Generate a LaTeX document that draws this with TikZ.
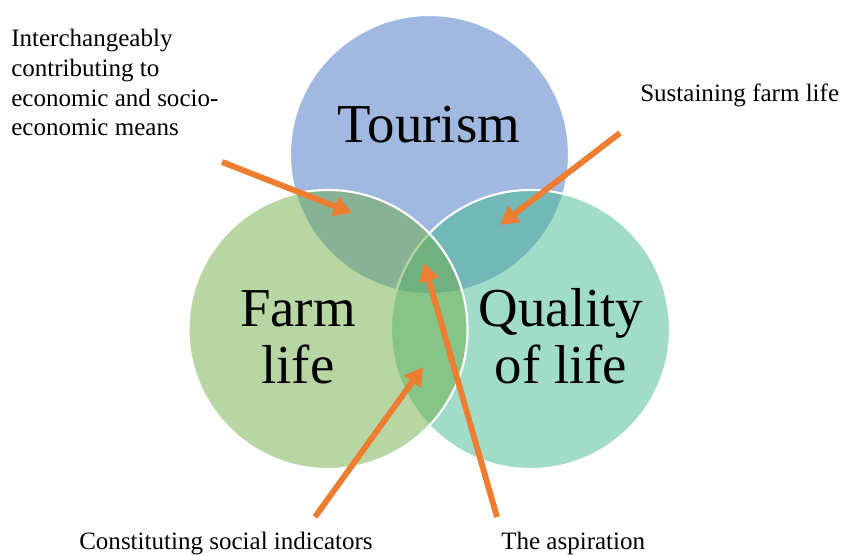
\documentclass[tikz,border=0pt]{standalone}
\usepackage{fontspec}
\setmainfont{Liberation Serif}
\usetikzlibrary{arrows.meta}
\definecolor{tourc}{RGB}{68,114,196}
\definecolor{farmc}{RGB}{111,173,71}
\definecolor{qualc}{RGB}{65,185,143}
\definecolor{arrowc}{RGB}{237,125,49}

\begin{document}
\begin{tikzpicture}[x=0.025cm,y=-0.025cm,
    ring/.style={draw=white,line width=1.5pt,fill opacity=0.5},
    callout/.style={draw=arrowc,line width=4.2pt,-{Triangle[length=13pt,width=14pt]}},
    big/.style={font=\fontsize{39}{41}\selectfont,align=center},
    small/.style={font=\fontsize{17.8}{21.3}\selectfont,align=left}]
    \useasboundingbox (0,0) rectangle (841,556);
    % circles
    \coordinate (tour) at (429.5,154.5);
    \coordinate (qual) at (530.5,329.5);
    \coordinate (farm) at (328,329.5);
    \draw[ring,fill=tourc] (tour) circle[radius=3.4875cm];
    \draw[ring,fill=qualc] (qual) circle[radius=3.4875cm];
    \draw[ring,fill=farmc] (farm) circle[radius=3.4875cm];
    % labels in the circles (base = last line)
    \node[big,anchor=base] (tourtext) at (429,143) {Tourism};
    \node[big,anchor=base] (farmtext) at (298,384) {Farm\\life};
    \node[big,anchor=base] (qualtext) at (561,384) {Quality\\of life};
    % outer labels
    \node[small,anchor=base west,inner sep=0pt] (means) at (11,136) {Interchangeably\\contributing to\\economic and socio-\\economic means};
    \node[small,anchor=base west,inner sep=0pt] (sustain) at (640,102) {Sustaining farm life};
    \node[small,anchor=base west,inner sep=0pt] (social) at (79,549) {Constituting social indicators};
    \node[small,anchor=base west,inner sep=0pt] (aspire) at (501,549) {The aspiration};
    % arrows
    \coordinate (meanstail) at (222,162);
    \coordinate (meanstip) at (352,213);
    \coordinate (sustaintail) at (620,133);
    \coordinate (sustaintip) at (500,225);
    \coordinate (socialtail) at (315,517);
    \coordinate (socialtip) at (423,367);
    \coordinate (aspiretail) at (497,517);
    \coordinate (aspiretip) at (424,263);
    \foreach \a in {means,sustain,social,aspire}{
        \draw[callout] (\a tail) -- (\a tip);
    }
\end{tikzpicture}
\end{document}
